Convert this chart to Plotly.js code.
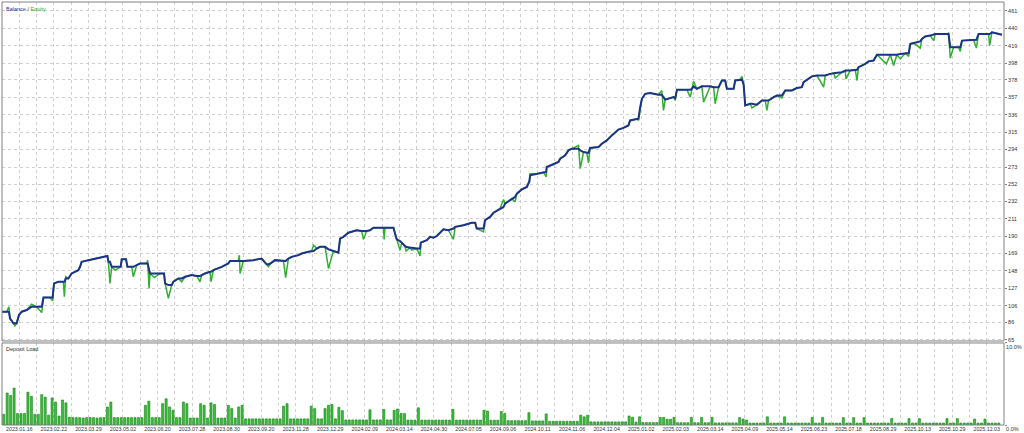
<!DOCTYPE html>
<html><head><meta charset="utf-8">
<script src="https://cdn.plot.ly/plotly-3.0.1.min.js"></script>
<style>html,body{margin:0;padding:0;background:#fff;}#chart{width:1024px;height:433px;}</style>
</head><body><div id="chart"></div>
<script>
// deal number (x), balance and equity values
const deal = [0,2.7,4.0,4.6,6.6,7.5,8.5,9.8,11.4,14.3,17.2,20.1,23.0,24.0,27.8,29.3,30.1,32.6,35.5,36.1,36.9,38.4,40.3,44.2,45.2,46.1,50.0,53.8,56.7,59.6,61.0,61.6,62.5,63.5,65.4,67.4,68.7,69.3,71.8,72.6,75.1,76.0,78.0,79.9,83.8,84.3,85.1,85.7,88.2,91.5,93.8,94.4,96.3,98.2,99.2,102.1,104.0,106.0,109.8,112.7,114.6,115.6,117.5,120.4,121.0,122.4,125.3,127.2,131.0,132.0,136.8,137.4,137.8,139.7,145.5,150.3,152.3,153.2,154.2,156.1,158.0,162.9,164.2,165.8,167.7,171.6,173.5,177.4,179.3,180.3,182.2,184.1,187.0,189.0,191.8,194.7,195.7,197.6,200.5,205.3,208.2,209.2,211.1,213.0,215.0,220.8,221.2,221.7,226.6,227.5,228.5,230.4,231.4,233.3,233.9,236.2,237.2,240.1,242.0,242.4,245.9,247.8,249.7,251.7,255.5,258.4,261.3,262.3,267.1,271.9,273.9,274.8,278.7,279.6,282.5,284.5,288.3,290.3,291.2,295.1,297.0,298.0,300.9,303.8,305.3,305.7,309.6,313.4,315.0,315.3,319.2,322.1,323.1,326.0,327.9,329.8,333.7,334.7,336.6,338.5,339.5,340.4,345.3,347.2,350.1,353.0,354.9,356.8,359.7,362.6,363.6,367.5,368.4,369.4,370.4,372.3,375.2,380.0,381.9,382.9,383.9,388.7,389.7,390.7,396.4,398.4,399.3,400.3,402.2,405.1,406.1,410.0,411.9,412.8,414.8,416.7,418.6,419.6,423.5,424.4,427.3,428.3,429.3,430.2,433.1,434.1,437.0,439.9,441.8,442.8,443.7,446.6,448.6,451.4,453.4,457.2,460.1,463.0,464.0,468.8,471.7,475.6,476.5,479.4,481.4,482.3,486.2,488.1,488.5,491.0,493.9,494.9,495.8,499.7,501.6,504.5,506.5,511.9,514.2,516.1,518.0,520.0,522.9,524.8,525.8,527.7,531.5,532.5,534.4,537.3,539.3,540.2,547.0,547.9,548.9,550.8,553.7,554.7,555.7,562.4,564.0,565.3,571.1,571.7,573.0,575.0,577.9,578.8];
const balance = [99,99,99,91,85,85,85,95,99,101,105,105,105,116,116,116,133,135,135,135,139,139,145,149,153,159,161,163,164,166,166,159,159,153,153,153,153,162,162,153,153,153,155,157,157,157,150,145,145,145,145,133,131,131,135,139,139,141,143,142,142,143,145,147,147,149,151,153,157,160,160,160,160,160,161,163,158,156,156,158,161,160,160,163,165,167,169,171,172,172,175,177,177,174,172,170,187,189,194,197,196,196,196,197,200,200,200,200,200,193,186,184,182,177,177,176,176,175,175,182,185,189,188,190,198,197,199,201,203,206,206,199,199,209,213,218,223,225,229,235,237,241,246,249,256,263,265,267,267,273,276,279,283,287,293,295,295,293,291,290,290,296,297,301,305,311,315,318,320,323,329,331,331,345,355,361,362,360,360,357,354,357,356,366,366,366,367,370,367,370,370,370,369,369,369,377,377,367,367,377,378,378,372,347,349,349,348,353,353,353,353,357,359,359,365,365,368,369,375,382,383,383,383,385,386,386,387,389,389,389,390,390,393,397,400,401,408,408,408,408,408,409,410,410,421,422,424,427,430,431,432,433,433,433,417,417,417,417,425,426,426,433,433,433,435,434,432,432];
const equity = [99,99,105,91,85,82,85,95,99,101,108,105,98,116,116,112,133,135,135,117,141,139,145,149,153,159,161,163,164,166,166,159,133,153,149,151,153,162,162,153,153,141,155,157,157,161,127,145,140,145,145,133,115,131,135,139,135,141,143,142,135,143,145,147,135,149,151,153,157,160,160,167,145,160,161,163,158,156,153,158,161,160,140,163,165,167,169,171,172,179,175,177,177,151,172,170,187,189,194,197,196,186,196,197,200,200,186,200,200,193,186,173,182,177,172,176,173,175,166,182,185,189,188,190,198,197,186,201,203,206,206,199,195,209,213,218,223,234,229,235,231,241,246,249,256,265,265,267,261,273,276,279,283,287,293,295,299,271,291,290,278,296,297,301,305,311,315,318,320,323,329,331,329,345,355,361,362,360,365,341,354,357,353,366,366,357,367,376,367,370,351,370,369,349,369,377,377,367,367,377,378,382,372,347,349,344,348,353,353,341,353,357,359,356,365,365,368,369,375,382,383,369,383,385,386,380,387,389,379,389,390,377,393,397,400,401,408,397,408,395,408,403,410,406,421,422,416,427,430,431,425,433,433,434,404,417,417,412,425,426,416,433,433,419,435,434,432,432];

// deposit load in percent, one bar per opened position, in order
const depositLoad = [
 1.3,3.9,3.6,4.5,1.4,1.4,1.4,4.0,3.5,1.3,1.3,3.7,3.4,1.2,3.3,2.8,1.1,3.05,2.7,
 0.95,0.9,0.9,0.9,0.85,0.9,0.9,0.9,0.85,0.9,0.9,
 2.2,2.8,0.9,0.9,0.9,0.9,0.9,0.9,0.9,0.9,0.9,2.4,2.9,0.9,0.9,0.9,
 2.6,3.2,2.2,1.8,0.9,0.9,2.8,2.6,0.85,0.85,0.85,2.6,2.4,0.85,2.7,2.5,0.85,0.85,0.85,2.4,2.0,0.85,2.2,2.4,
 0.75,0.75,0.75,0.75,0.75,0.75,0.75,0.75,0.75,0.75,0.75,2.3,2.6,0.75,0.75,0.75,0.75,0.75,0.75,2.3,2.0,0.75,0.75,2.0,2.4,2.5,0.75,2.15,1.75,
 0.62,0.62,0.62,0.62,0.62,0.62,0.62,1.85,0.62,0.62,0.62,1.9,0.62,0.62,1.8,1.95,1.4,1.4,0.6,0.6,0.6,2.1,0.6,0.6,0.6,0.6,0.6,0.6,0.6,0.6,0.6,1.9,0.6,0.6,0.6,0.6,0.6,0.6,0.6,0.6,1.8,1.7,0.58,0.58,0.58,1.65,1.4,
 0.53,0.53,0.53,0.53,0.53,0.53,1.5,0.5,0.5,0.5,0.5,1.35,0.45,0.45,0.45,0.45,0.45,0.45,0.45,0.45,0.45,1.2,1.0,1.2,0.38,0.38,0.38,0.38,0.38,0.38,0.38,0.38,0.38,0.38,0.38,1.1,0.95,0.35,1.0,0.3,0.3,0.3,0.3,0.3,
 0.93,0.93,0.7,0.7,0.93,0.28,0.28,0.28,0.28,0.93,0.28,0.28,0.93,0.28,0.28,0.93,0.26,0.26,0.26,0.26,0.26,0.26,0.26,0.9,0.73,0.6,
 0.24,0.24,0.24,0.24,0.24,1.0,0.24,0.24,0.24,0.24,1.0,0.24,0.24,0.24,0.24,0.24,0.24,0.24,0.93,0.24,0.24,0.93,0.24,0.24,0.24,0.24,0.24,0.9,0.24,0.24,0.9,0.24,0.24,0.9,0.24,0.24,0.24,0.24,0.24,0.24,0.24,0.8,0.24,0.24,0.24,0.24,0.78,0.24,0.24,0.78,0.24,0.24,0.24,0.24,0.24,0.24,0.24,0.78,0.24,0.24,0.78,0.24,0.24,0.24,0.24,0.73,0.24,0.24,0.73,0.24,0.24,0.24,0.24
];

const xLabels = ['2023.01.16','2023.02.22','2023.03.29','2023.05.02','2023.06.20','2023.07.28','2023.08.30','2023.09.20','2023.11.28','2023.12.29','2024.02.09','2024.03.14','2024.04.30','2024.07.05','2024.09.06','2024.10.11','2024.11.06','2024.12.04','2025.01.02','2025.02.03','2025.03.14','2025.04.09','2025.05.14','2025.06.23','2025.07.18','2025.08.29','2025.10.13','2025.10.29','2025.12.03'];
const yTicks = [65,86,106,127,148,169,190,211,232,252,273,294,315,336,357,378,398,419,440,461];
const loadTicks = [0,10];
const loadTickText = ['0.0%','10.0%'];

const FONT = '"Liberation Sans", Arial, sans-serif';
const gridCol = '#cfcfcf';
const frameCol = '#808080';

const xTickVals = [], xTickText = [];
for (let k = 0; k <= 58; k++) { xTickVals.push(10 * k); xTickText.push(k % 2 === 1 ? xLabels[(k - 1) / 2] : ''); }
const loadX = depositLoad.map((_, i) => 1 + 2 * i);

const topDom = [0.1986, 1];
const botDom = [0, 0.1939];

const traces = [
  {x: deal, y: equity, type: 'scatter', mode: 'lines', line: {color: '#30b030', width: 1.5}, xaxis: 'x', yaxis: 'y', hoverinfo: 'skip'},
  {x: deal, y: balance, type: 'scatter', mode: 'lines', line: {color: '#1c3388', width: 2}, xaxis: 'x', yaxis: 'y'},
  {x: loadX, y: depositLoad, type: 'bar', width: 1.2, marker: {color: '#38c238', line: {color: '#127f12', width: 0.6}}, xaxis: 'x2', yaxis: 'y2'}
];

const layout = {
  width: 1024, height: 433,
  margin: {l: 2, r: 20, t: 2, b: 8, pad: 0},
  paper_bgcolor: '#ffffff', plot_bgcolor: '#ffffff',
  showlegend: false,
  font: {family: FONT, size: 5.5, color: '#333333'},
  xaxis: {domain: [0, 1], anchor: 'y', range: [0, 580], tickvals: xTickVals, showticklabels: false,
          showgrid: true, gridcolor: gridCol, griddash: 'dot', gridwidth: 1, zeroline: false, ticks: '', fixedrange: true},
  yaxis: {domain: topDom, anchor: 'x', side: 'right', range: [63.8, 471.4], tickvals: yTicks, ticktext: yTicks.map(String),
          showgrid: true, gridcolor: gridCol, griddash: 'dot', gridwidth: 1, zeroline: false,
          ticks: 'outside', ticklen: 2, tickcolor: frameCol, tickfont: {family: FONT, size: 5.5, color: '#333'}},
  xaxis2: {domain: [0, 1], anchor: 'y2', range: [0, 580], tickvals: xTickVals, ticktext: xTickText, tickangle: 0,
           showgrid: true, gridcolor: gridCol, griddash: 'dot', gridwidth: 1, zeroline: false, ticks: '',
           tickfont: {family: FONT, size: 5.3, color: '#333'}},
  yaxis2: {domain: botDom, anchor: 'x2', side: 'right', range: [0, 10], tickvals: loadTicks, ticktext: loadTickText,
           ticklabelposition: 'outside bottom',
           showgrid: false, zeroline: false, ticks: 'outside', ticklen: 2, tickcolor: frameCol,
           tickfont: {family: FONT, size: 5.5, color: '#333'}},
  shapes: [
    {type: 'rect', xref: 'paper', yref: 'paper', x0: 0, x1: 1, y0: topDom[0], y1: topDom[1], line: {color: frameCol, width: 1}, fillcolor: 'rgba(0,0,0,0)'},
    {type: 'rect', xref: 'paper', yref: 'paper', x0: 0, x1: 1, y0: botDom[0], y1: botDom[1], line: {color: frameCol, width: 1}, fillcolor: 'rgba(0,0,0,0)'}
  ],
  annotations: [
    {xref: 'paper', yref: 'paper', x: 0, y: 1, xanchor: 'left', yanchor: 'top', xshift: 2, yshift: -2, showarrow: false,
     text: '<span style="color:#1c2c96">Balance</span><span style="color:#444"> / </span><span style="color:#2ea52e">Equity</span>',
     font: {family: FONT, size: 5.5}},
    {xref: 'paper', yref: 'paper', x: 0, y: botDom[1], xanchor: 'left', yanchor: 'top', xshift: 2, yshift: -1, showarrow: false,
     text: 'Deposit Load', font: {family: FONT, size: 5.5, color: '#333'}}
  ]
};

Plotly.newPlot('chart', traces, layout, {staticPlot: true, displayModeBar: false});
</script></body></html>
